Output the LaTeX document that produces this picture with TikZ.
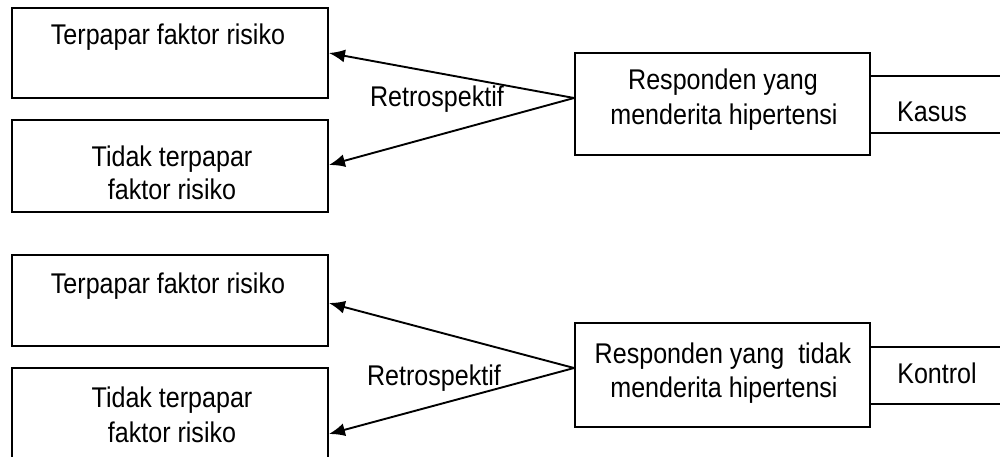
\documentclass[tikz,border=0pt]{standalone}
\usepackage{fontspec}
\usepackage{graphicx}
\setmainfont{Liberation Sans}
\usetikzlibrary{arrows.meta}
\newcommand\narrowtxt[1]{\scalebox{0.88}[1]{#1}}
\begin{document}
\begin{tikzpicture}[x=1pt,y=-1pt,
  box/.style={draw,line width=1.9pt,rectangle,inner sep=0pt,minimum width=316pt},
  rbox/.style={draw,line width=1.9pt,rectangle,inner sep=0pt,minimum width=295pt},
  txt/.style={anchor=base,inner sep=0pt,font=\fontsize{28.5}{34}\selectfont},
  arr/.style={line width=1.9pt,-{Latex[length=16pt,width=13pt]}},
  side/.style={line width=1.9pt}]
\useasboundingbox (0,0) rectangle (1000,457);
\clip (0,0) rectangle (1000,457);
% top group
\node[box,minimum height=90pt] (B1) at (170,53) {};
\node[box,minimum height=92pt] (B2) at (170,166) {};
\node[rbox,minimum height=102pt] (R1) at (722.5,104) {};
\node[txt] (t1) at (168,45) {\narrowtxt{Terpapar faktor risiko}};
\node[txt] (t2a) at (172,167) {\narrowtxt{Tidak terpapar}};
\node[txt] (t2b) at (172,200) {\narrowtxt{faktor risiko}};
\node[txt] (r1a) at (723,90) {\narrowtxt{Responden yang}};
\node[txt] (r1b) at (724,125) {\narrowtxt{menderita hipertensi}};
\node[txt] (k1) at (932,122) {\narrowtxt{Kasus}};
\node[txt] (l1) at (437,107) {\narrowtxt{Retrospektif}};
\coordinate (k1t) at (1005,76);
\coordinate (k1b) at (1005,133);
\draw[side] (R1.east |- k1t) -- (k1t);
\draw[side] (R1.east |- k1b) -- (k1b);
\draw[arr] ([yshift=6pt]R1.west) -- (B1.east);
\draw[arr] ([yshift=6pt]R1.west) -- ([yshift=1pt]B2.east);
% bottom group
\node[box,minimum height=91pt] (B3) at (170,300.5) {};
\node[box,minimum height=92pt] (B4) at (170,414) {};
\node[rbox,minimum height=104pt] (R2) at (722.5,375) {};
\node[txt] (t3) at (168,293) {\narrowtxt{Terpapar faktor risiko}};
\node[txt] (t4a) at (172,407) {\narrowtxt{Tidak terpapar}};
\node[txt] (t4b) at (172,442) {\narrowtxt{faktor risiko}};
\node[txt] (r2a) at (723,363) {\narrowtxt{Responden yang\ \ tidak}};
\node[txt] (r2b) at (724,397) {\narrowtxt{menderita hipertensi}};
\node[txt] (k2) at (937,383) {\narrowtxt{Kontrol}};
\node[txt] (l2) at (434,385) {\narrowtxt{Retrospektif}};
\coordinate (k2t) at (1005,347);
\coordinate (k2b) at (1005,404);
\draw[side] (R2.east |- k2t) -- (k2t);
\draw[side] (R2.east |- k2b) -- (k2b);
\draw[arr] ([yshift=7pt]R2.west) -- ([yshift=-2.5pt]B3.east);
\draw[arr] ([yshift=7pt]R2.west) -- ([yshift=-20pt]B4.east);
\end{tikzpicture}
\end{document}
